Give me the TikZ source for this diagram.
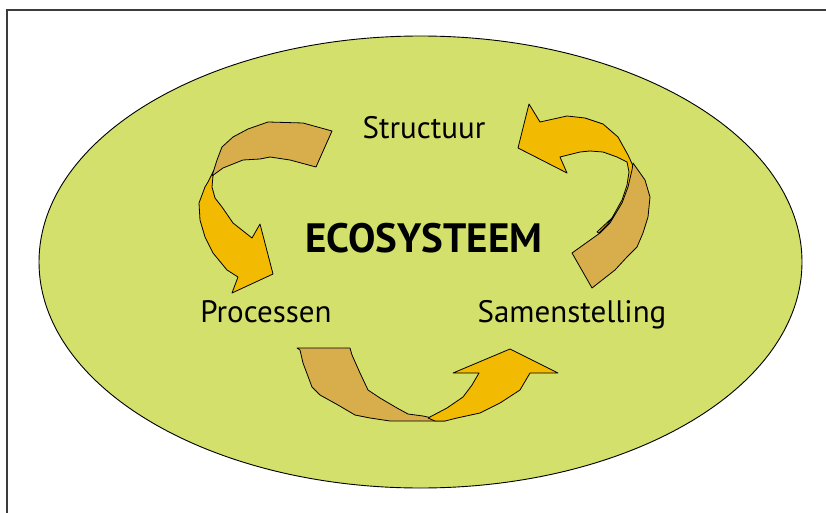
\documentclass[tikz,border=0pt]{standalone}
\usepackage{fontspec}
\setmainfont{PT Sans}
\definecolor{ecogreen}{RGB}{211,224,107}
\definecolor{arrowyellow}{RGB}{242,186,0}
\definecolor{arrowtan}{RGB}{216,174,76}
\definecolor{framegray}{RGB}{60,60,60}
\tikzset{
  cycletext/.style={font=\fontsize{31}{36}\selectfont, inner sep=0pt, anchor=base},
  yelpart/.style={draw=black, line width=0.8pt, line join=round, fill=arrowyellow},
  tanpart/.style={draw=black, line width=0.8pt, line join=round, fill=arrowtan}
}
\begin{document}
\begin{tikzpicture}[x=1pt,y=-1pt]
    \useasboundingbox (0,0) rectangle (826,513);
    \clip (0,0) rectangle (826,513);
    \draw[framegray, line width=1.4pt] (7,10) rectangle (840,530);
    \draw[fill=ecogreen, line width=0.9pt] (420.5,262) ellipse [x radius=381.5pt, y radius=226pt];
    % Structuur -> Processen
    \draw[yelpart] (214,170) -- (208,182) -- (205,187) -- (199,203) -- (200,220) -- (205,237) -- (213,253)
        -- (227,270) -- (238,277) -- (232,293) -- (273,274) -- (260,224) -- (252,238) -- (233,223)
        -- (222,207) -- (215,198) -- (212,187) -- (213,176) -- cycle;
    \draw[tanpart] (332,131) -- (303,123) -- (268,122) -- (248,129) -- (233,137) -- (222,147) -- (217,160)
        -- (212,176) -- (223,168) -- (243,160) -- (260,159) -- (270,157) -- (290,160) -- (316,167) -- cycle;
    % Samenstelling -> Structuur
    \draw[yelpart] (518,148) -- (529,104) -- (540,122) -- (567,116) -- (585,118) -- (603,124) -- (618,137)
        -- (628,155) -- (634,168) -- (630,185) -- (624,200) -- (616,214) -- (606,226) -- (599,233)
        -- (597,232) -- (612,218) -- (622,200) -- (627,185) -- (629,172) -- (627,162) -- (617,157)
        -- (603,152) -- (590,151) -- (580,152) -- (560,157) -- (567,173) -- cycle;
    \draw[tanpart] (633,163) -- (645,180) -- (650,197) -- (648,217) -- (643,233) -- (637,247) -- (627,257)
        -- (615,270) -- (592,288) -- (572,253) -- (600,233) -- (610,223) -- (622,203) -- (628,187)
        -- (632,170) -- cycle;
    % Processen -> Samenstelling
    \draw[tanpart] (297,348) -- (350,348) -- (352,355) -- (360,373) -- (368,390) -- (380,398) -- (397,408)
        -- (408,414) -- (423,416) -- (437,419) -- (445,421) -- (390,421) -- (370,418) -- (355,415)
        -- (338,405) -- (320,395) -- (312,387) -- (303,363) -- (300,350) -- cycle;
    \draw[yelpart] (428,418) -- (447,408) -- (463,397) -- (472,385) -- (479,373) -- (453,373) -- (510,349)
        -- (558,373) -- (530,373) -- (520,390) -- (500,403) -- (480,413) -- (457,418) -- (445,421)
        -- (435,421) -- cycle;
    \node[cycletext] (structuur) at (424,139) {Structuur};
    \node[cycletext, font=\fontsize{41}{46}\selectfont\bfseries] (ecosysteem) at (424,252) {ECOSYSTEEM};
    \node[cycletext] (processen) at (266,322) {Processen};
    \node[cycletext] (samenstelling) at (572,322) {Samenstelling};
\end{tikzpicture}
\end{document}
